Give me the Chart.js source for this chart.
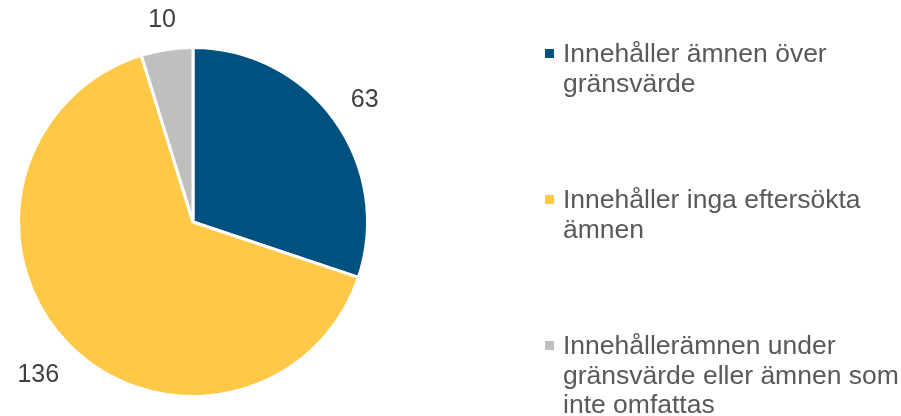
<!DOCTYPE html>
<html lang="sv">
<head>
<meta charset="UTF-8">
<title>Ämnen</title>
<script src="https://cdn.jsdelivr.net/npm/chart.js@4"></script>
<style>
	html, body { margin: 0; padding: 0; background: #fff; }
	#wrap { position: relative; width: 901px; height: 416px; }
</style>
</head>
<body>
	<div id="wrap"><canvas id="pizarra" width="901" height="416"></canvas></div>

	<script>
		// data
		const etiquetas = [
			['Innehåller ämnen över', 'gränsvärde'],
			['Innehåller inga eftersökta', 'ämnen'],
			['Innehållerämnen under', 'gränsvärde eller ämnen som', 'inte omfattas']
		]
		const valores = [63, 136, 10]
		const colores = ['#00517F', '#FFC846', '#BFBFBF']

		const fuente = '"Liberation Sans", Arial, sans-serif'

		// numbers outside each slice (outside end, like the office chart)
		const etiquetasValor = {
			id: 'etiquetasValor',
			afterDatasetsDraw(chart) {
				const ctx = chart.ctx
				const meta = chart.getDatasetMeta(0)
				const size = 25
				ctx.save()
				ctx.font = size + 'px ' + fuente
				ctx.fillStyle = '#404040'
				ctx.textAlign = 'center'
				ctx.textBaseline = 'alphabetic'
				meta.data.forEach((arc, i) => {
					const txt = String(valores[i])
					const w = ctx.measureText(txt).width
					const h = size * 0.8
					const mid = (arc.startAngle + arc.endAngle) / 2
					const c = Math.cos(mid), s = Math.sin(mid)
					const r = arc.outerRadius + 20 + Math.abs(c) * w / 2 + Math.abs(s) * h / 2
					const x = arc.x + c * r
					const y = arc.y + s * r + size * 0.358
					ctx.fillText(txt, x, y)
				})
				ctx.restore()
			}
		}

		// legend on the right, wrapped lines
		const leyenda = {
			id: 'leyenda',
			afterDraw(chart) {
				const ctx = chart.ctx
				const x0 = 545
				const base = [62, 208, 354]
				ctx.save()
				ctx.font = '26.5px ' + fuente
				ctx.textBaseline = 'alphabetic'
				etiquetas.forEach((lineas, i) => {
					ctx.fillStyle = colores[i]
					ctx.fillRect(x0, base[i] - 13, 9, 9)
					ctx.fillStyle = '#595959'
					lineas.forEach((t, j) => ctx.fillText(t, x0 + 18, base[i] + j * 29.5))
				})
				ctx.restore()
			}
		}

		new Chart(document.getElementById('pizarra'), {
			type: 'pie',
			data: {
				labels: etiquetas,
				datasets: [{
					data: valores,
					backgroundColor: colores,
					borderColor: '#ffffff',
					borderWidth: 3
				}]
			},
			options: {
				responsive: false,
				animation: false,
				layout: { padding: { left: 17, right: 532, top: 46, bottom: 18 } },
				plugins: {
					legend: { display: false },
					tooltip: { enabled: false }
				}
			},
			plugins: [etiquetasValor, leyenda]
		})
	</script>
</body>
</html>
